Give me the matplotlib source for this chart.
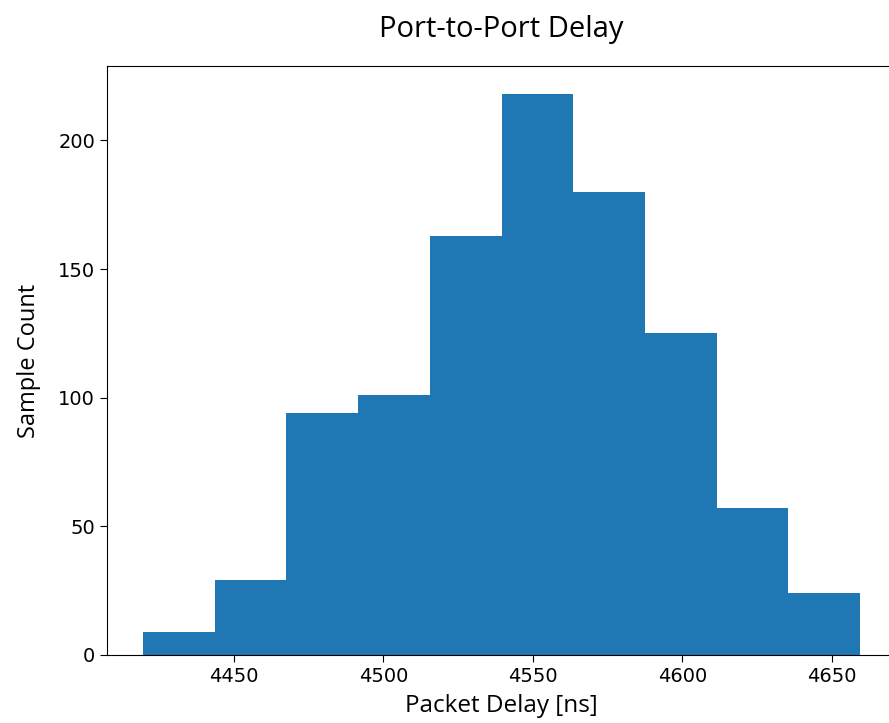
import numpy as np
import matplotlib
matplotlib.use("Agg")
import matplotlib.pyplot as plt

# binned port-to-port delay samples (10 equal bins)
bin_lo = 4419.5
bin_hi = 4659.5
n_bins = 10
counts = [9, 29, 94, 101, 163, 218, 180, 125, 57, 24]

title = "Port-to-Port Delay"
x_label = "Packet Delay [ns]"
y_label = "Sample Count"

label_font = ["Open Sans", "DejaVu Sans"]

edges = np.linspace(bin_lo, bin_hi, n_bins + 1)

fig = plt.figure(figsize=(8.89, 7.23), dpi=100)
# axes run past the right edge of the figure, so the right spine is cut off
ax = fig.add_axes([107 / 889, 68 / 723, 789 / 889, 589 / 723])

ax.hist(edges[:-1], bins=edges, weights=counts, color="#1f77b4")
ax.spines["right"].set_visible(False)

ax.tick_params(labelsize=14, length=5)
ax.set_xticks([4450, 4500, 4550, 4600, 4650])
ax.set_yticks([0, 50, 100, 150, 200])
ax.set_xlabel(x_label, family=label_font, fontsize=17.5, labelpad=6)
ax.set_ylabel(y_label, family=label_font, fontsize=17, labelpad=12)
ax.set_title(title, family=label_font, fontsize=21, pad=21)

fig.savefig("out.png", dpi=100)
